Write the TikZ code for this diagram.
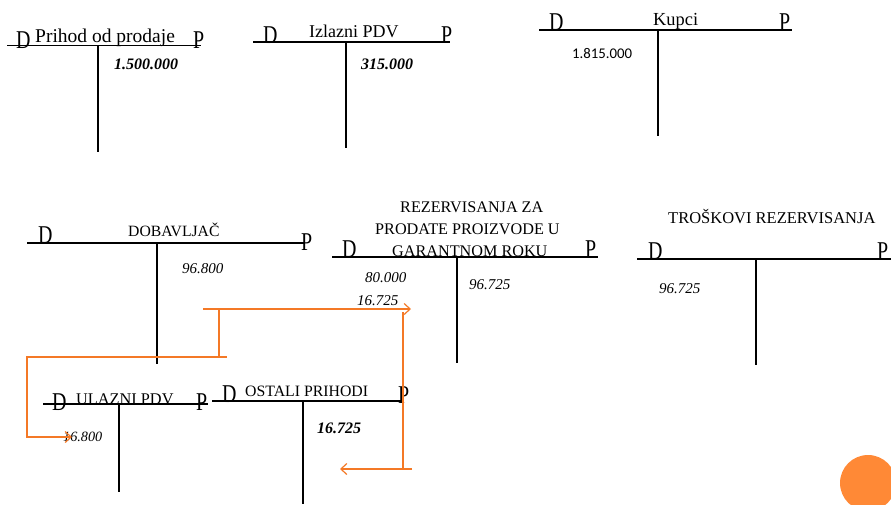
\documentclass[tikz,border=0pt]{standalone}
\usepackage{fontspec}
\setmainfont{Liberation Serif}
\newfontfamily\carl{Carlito}
\usetikzlibrary{arrows.meta}
\definecolor{lineor}{RGB}{244,121,38}
\definecolor{circor}{RGB}{255,137,54}
\newcommand{\tallDP}[1]{\scalebox{0.95}[1.22]{#1}}
\tikzset{
  tline/.style={line width=1.2pt, black},
  lbl/.style={inner sep=0pt, anchor=base west},
  dp/.style={lbl, font=\fontsize{21}{22}\selectfont},
  ttl/.style={lbl, font=\fontsize{16.2}{18}\selectfont},
  num/.style={lbl, font=\fontsize{15}{17}\selectfont\itshape},
  bnum/.style={lbl, font=\fontsize{16}{18}\selectfont\bfseries\itshape},
  orl/.style={line width=1.2pt, lineor},
  orarr/.style={orl, -{Straight Barb[length=6pt,width=11pt,line width=1.2pt]}},
}
\begin{document}
\begin{tikzpicture}[x=1pt,y=-1pt]
\useasboundingbox (0,0) rectangle (891,504);
% ---- Account 1: Prihod od prodaje
\coordinate (a1L) at (7,45.5); \coordinate (a1R) at (201,45.5);
\coordinate (a1T) at (98,45.5); \coordinate (a1B) at (98,152);
\draw[tline] (a1L) -- (a1R); \draw[tline] (a1T) -- (a1B);
\node[dp] (a1D) at (16,48) {\tallDP{D}};
\node[dp] (a1P) at (193,48) {\tallDP{P}};
\node[lbl, font=\fontsize{19.5}{21}\selectfont] (a1t) at (35,42) {Prihod od prodaje};
\node[bnum] (a1n) at (114,69.5) {1.500.000};
% ---- Account 2: Izlazni PDV
\coordinate (a2L) at (253,42); \coordinate (a2R) at (450,42);
\coordinate (a2T) at (346,42); \coordinate (a2B) at (346,148);
\draw[tline] (a2L) -- (a2R); \draw[tline] (a2T) -- (a2B);
\node[dp] (a2D) at (263,43) {\tallDP{D}};
\node[dp] (a2P) at (441,43) {\tallDP{P}};
\node[lbl, font=\fontsize{18}{20}\selectfont] (a2t) at (309,37) {Izlazni PDV};
\node[bnum] (a2n) at (361,69.5) {315.000};
% ---- Account 3: Kupci
\coordinate (a3L) at (539,30); \coordinate (a3R) at (792,30);
\coordinate (a3T) at (658,30); \coordinate (a3B) at (658,136);
\draw[tline] (a3L) -- (a3R); \draw[tline] (a3T) -- (a3B);
\node[dp] (a3D) at (549,30) {\tallDP{D}};
\node[dp] (a3P) at (779,30) {\tallDP{P}};
\node[lbl, font=\fontsize{18.4}{20}\selectfont] (a3t) at (653,25) {Kupci};
\node[lbl, font=\fontsize{14.8}{16}\selectfont\carl] (a3n) at (572,58) {1.815.000};
% ---- Account 4: DOBAVLJAC
\coordinate (a4L) at (27,243); \coordinate (a4R) at (305,243);
\coordinate (a4T) at (157,243); \coordinate (a4B) at (157,364);
\draw[tline] (a4L) -- (a4R); \draw[tline] (a4T) -- (a4B);
\node[dp] (a4D) at (38,243) {\tallDP{D}};
\node[dp] (a4P) at (301,250) {\tallDP{P}};
\node[lbl, font=\fontsize{15.7}{17}\selectfont] (a4t) at (128,236) {DOBAVLJAČ};
\node[num] (a4n) at (182,273) {96.800};
% ---- Account 5: Rezervisanja
\coordinate (a5L) at (332,257); \coordinate (a5R) at (598,257);
\coordinate (a5T) at (457,257); \coordinate (a5B) at (457,363);
\draw[tline] (a5L) -- (a5R); \draw[tline] (a5T) -- (a5B);
\node[dp] (a5D) at (342,257.5) {\tallDP{D}};
\node[dp] (a5P) at (585,257.5) {\tallDP{P}};
\node[ttl] (a5t1) at (400,212) {REZERVISANJA ZA};
\node[ttl] (a5t2) at (375,234) {PRODATE PROIZVODE U};
\node[ttl] (a5t3) at (392,256) {GARANTNOM ROKU};
\node[num] (a5n1) at (365,282) {80.000};
\node[num] (a5n2) at (357,305) {16.725};
\node[num] (a5n3) at (469,289) {96.725};
% ---- Account 6: Troskovi rezervisanja
\coordinate (a6L) at (637,259); \coordinate (a6R) at (891,259);
\coordinate (a6T) at (756,259); \coordinate (a6B) at (756,365);
\draw[tline] (a6L) -- (a6R); \draw[tline] (a6T) -- (a6B);
\node[dp] (a6D) at (648,259) {\tallDP{D}};
\node[dp] (a6P) at (877,259) {\tallDP{P}};
\node[lbl, font=\fontsize{16.5}{18}\selectfont] (a6t) at (668,223) {TROŠKOVI REZERVISANJA};
\node[num] (a6n) at (659,293) {96.725};
% ---- Account 7: Ulazni PDV
\coordinate (a7L) at (43,404); \coordinate (a7R) at (208,404);
\coordinate (a7T) at (119,404); \coordinate (a7B) at (119,492);
\draw[tline] (a7L) -- (a7R); \draw[tline] (a7T) -- (a7B);
\node[dp] (a7D) at (52,410) {\tallDP{D}};
\node[dp] (a7P) at (196,410) {\tallDP{P}};
\node[lbl, font=\fontsize{16.3}{18}\selectfont] (a7t) at (76,404) {ULAZNI PDV};
\node[num, font=\fontsize{14.2}{16}\selectfont\itshape] (a7n) at (63,441) {16.800};
% ---- Account 8: Ostali prihodi
\coordinate (a8L) at (212,401); \coordinate (a8R) at (403,401);
\coordinate (a8T) at (303,401); \coordinate (a8B) at (303,504);
\draw[tline] (a8L) -- (a8R); \draw[tline] (a8T) -- (a8B);
\node[dp] (a8D) at (222,402) {\tallDP{D}};
\node[dp] (a8P) at (398,403) {\tallDP{P}};
\node[lbl, font=\fontsize{15.8}{17}\selectfont] (a8t) at (245,396) {OSTALI PRIHODI};
\node[bnum] (a8n) at (317,433.5) {16.725};
% ---- Orange connectors
\coordinate (o1) at (203,309); \coordinate (o2) at (411,309);
\coordinate (o3) at (219,309); \coordinate (o4) at (219,357);
\coordinate (o5) at (227,357); \coordinate (o6) at (27,357);
\coordinate (o7) at (27,437); \coordinate (o8) at (72,437);
\draw[orarr] (o1) -- (o2);
\draw[orl] (o3) -- (o4);
\draw[orarr] (o5) -- (o6) -- (o7) -- (o8);
\coordinate (p1) at (403,312); \coordinate (p2) at (403,469);
\coordinate (p3) at (412,469); \coordinate (p4) at (340,469);
\draw[orl] (p1) -- (p2);
\draw[orarr] (p3) -- (p4);
% ---- decorative circle
\fill[circor] (868,483) circle (28);
\end{tikzpicture}
\end{document}
